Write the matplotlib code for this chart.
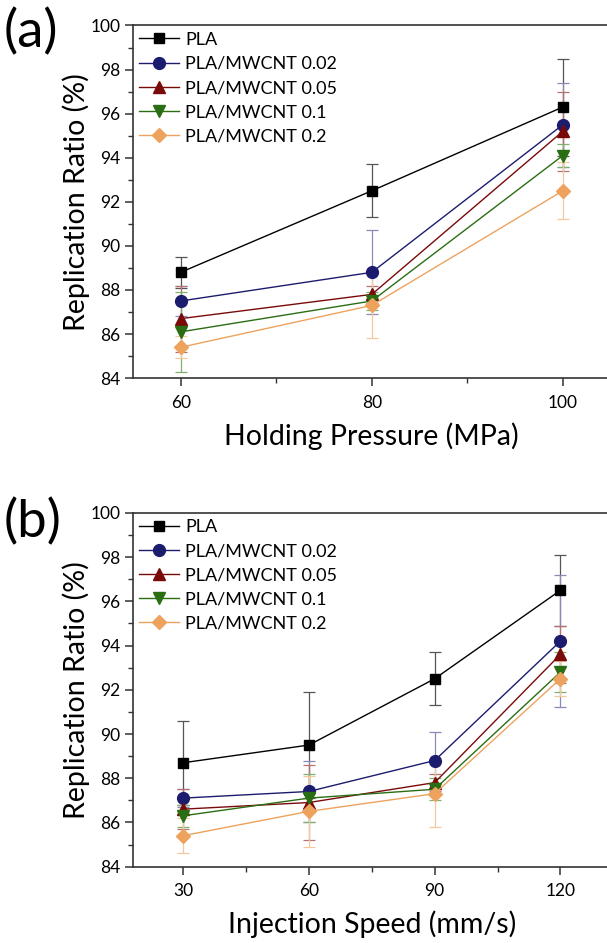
import matplotlib
matplotlib.use("Agg")
import matplotlib.pyplot as plt
from matplotlib.ticker import MultipleLocator

plt.rcParams['font.family'] = ['Lato', 'DejaVu Sans']

# series names + styles
labels = ["PLA", "PLA/MWCNT 0.02", "PLA/MWCNT 0.05", "PLA/MWCNT 0.1", "PLA/MWCNT 0.2"]
colors = ["#000000", "#1c1c6e", "#7a0a0a", "#2a6e14", "#eda35e"]
err_colors = ["#555555", "#8a8ab8", "#b87070", "#80b070", "#f3c89c"]
markers = ["s", "o", "^", "v", "D"]
msizes = [7, 8.5, 8, 8, 7.5]

# (a) holding pressure
pressure = [60, 80, 100]
ratio_a = [
    [88.8, 92.5, 96.3],
    [87.5, 88.8, 95.5],
    [86.7, 87.8, 95.2],
    [86.1, 87.5, 94.1],
    [85.4, 87.3, 92.5],
]
err_a = [
    [0.7, 1.2, 2.2],
    [0.7, 1.9, 1.9],
    [1.5, 0.4, 1.8],
    [1.8, 0.4, 0.5],
    [0.5, 1.5, 1.3],
]

# (b) injection speed
speed = [30, 60, 90, 120]
ratio_b = [
    [88.7, 89.5, 92.5, 96.5],
    [87.1, 87.4, 88.8, 94.2],
    [86.6, 86.9, 87.8, 93.6],
    [86.3, 87.1, 87.5, 92.8],
    [85.4, 86.5, 87.3, 92.5],
]
err_b = [
    [1.9, 2.4, 1.2, 1.6],
    [0.4, 1.4, 1.3, 3.0],
    [0.9, 1.7, 0.4, 1.3],
    [0.5, 1.1, 0.5, 0.9],
    [0.8, 1.6, 1.5, 0.8],
]

fig = plt.figure(figsize=(6.07, 9.43), dpi=100)
ax1 = fig.add_axes([0.219, 0.599, 0.787, 0.374])
ax2 = fig.add_axes([0.219, 0.081, 0.787, 0.375])


def draw(ax, x, ys, errs, xlabel, xlim, major, minor):
    for i in range(len(labels)):
        ax.errorbar(x, ys[i], yerr=errs[i], fmt="none", ecolor=err_colors[i],
                    elinewidth=0.9, capsize=4, capthick=0.9, zorder=2)
        ax.plot(x, ys[i], color=colors[i], marker=markers[i], markersize=msizes[i],
                linewidth=1.0, label=labels[i], zorder=3)
    ax.set_xlim(xlim)
    ax.set_ylim(84, 100)
    ax.xaxis.set_major_locator(MultipleLocator(major))
    ax.xaxis.set_minor_locator(MultipleLocator(minor))
    ax.yaxis.set_major_locator(MultipleLocator(2))
    ax.yaxis.set_minor_locator(MultipleLocator(1))
    ax.tick_params(which="both", direction="out", labelsize=12.5, color="#333333")
    ax.tick_params(which="major", length=6, width=1.1)
    ax.tick_params(which="minor", length=3.5, width=1.0)
    ax.tick_params(axis="x", pad=6)
    ax.tick_params(axis="y", pad=3)
    for s in ax.spines.values():
        s.set_linewidth(1.2)
        s.set_color("#333333")
    ax.set_xlabel(xlabel, fontsize=20.5, labelpad=8)
    ax.set_ylabel("Replication Ratio (%)", fontsize=20.5, labelpad=0)
    ax.legend(loc="upper left", frameon=False, fontsize=13, handlelength=2.2,
              handletextpad=0.35, labelspacing=0.45, borderaxespad=0.05,
              borderpad=0.3)


draw(ax1, pressure, ratio_a, err_a, "Holding Pressure (MPa)", (55, 105), 20, 10)
draw(ax2, speed, ratio_b, err_b, "Injection Speed (mm/s)", (18, 132), 30, 15)

fig.text(0.006, 0.966, "(a)", fontsize=38, va="center")
fig.text(0.006, 0.446, "(b)", fontsize=38, va="center")

fig.savefig("out.png", dpi=100)
